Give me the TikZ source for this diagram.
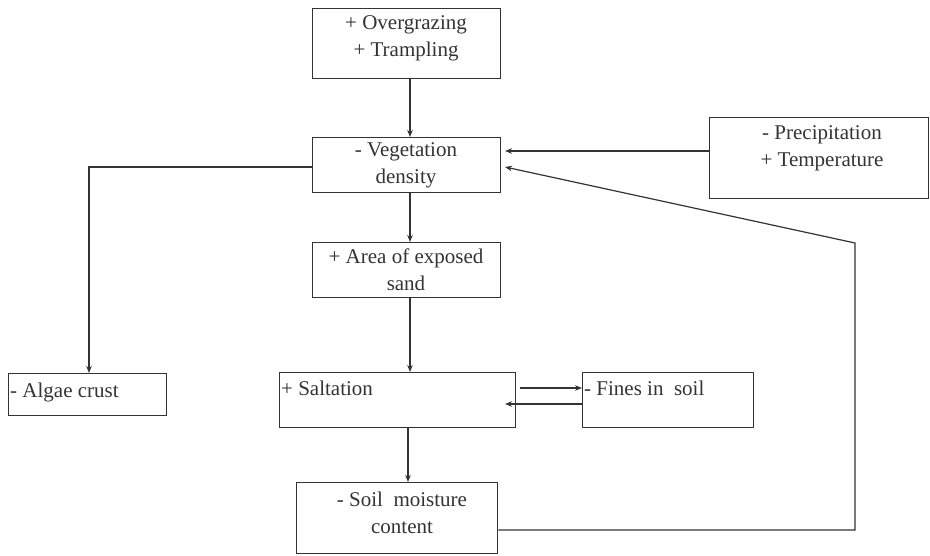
\documentclass[tikz,border=0pt]{standalone}
\usepackage{fontspec}
\setmainfont{Liberation Serif}
\usetikzlibrary{arrows.meta}
\definecolor{ink}{HTML}{333333}
\begin{document}
\begin{tikzpicture}[x=1pt,y=-1pt,
  box/.style={draw=ink, line width=1.4pt, inner sep=0pt, anchor=north west},
  lbl/.style={text=ink, font=\fontsize{21}{27}\selectfont, inner sep=0pt, align=center},
  lbll/.style={text=ink, font=\fontsize{21}{27}\selectfont, inner sep=0pt, anchor=west},
  conn/.style={draw=ink, line width=1.2pt},
  arr/.style={conn, -{Stealth[length=7pt,width=5.5pt]}}]
\useasboundingbox (0,0) rectangle (930,555);
% boxes
\node[box, minimum width=188pt, minimum height=70pt] (og) at (312,8) {};
\node[box, minimum width=188pt, minimum height=55pt] (veg) at (312,137) {};
\node[box, minimum width=219pt, minimum height=81pt] (pre) at (709,117) {};
\node[box, minimum width=188pt, minimum height=55pt] (area) at (312,242) {};
\node[box, minimum width=158pt, minimum height=42pt] (alg) at (8,373) {};
\node[box, minimum width=236pt, minimum height=55pt] (salt) at (279,372) {};
\node[box, minimum width=171pt, minimum height=55pt] (fin) at (582,372) {};
\node[box, minimum width=201pt, minimum height=71pt] (soil) at (296,482) {};
% texts
\node[lbl] (togt) at (406,38.5) {+ Overgrazing\\+ Trampling};
\node[lbl] (tveg) at (406,165) {- Vegetation\\density};
\node[lbl] (tpre) at (822,148) {- Precipitation\\+ Temperature};
\node[lbl] (tarea) at (406,270) {+ Area of exposed\\sand};
\node[lbll] (talg) at (10,392) {- Algae crust};
\node[lbll] (tsalt) at (281,388) {+ Saltation};
\node[lbll] (tfin) at (584,388) {- Fines in\ \ soil};
\node[lbl] (tsoil) at (402,513) {- Soil\ \ moisture\\content};
% helper coordinates
\coordinate (cx) at (410,0);
\coordinate (y151) at (0,151);
\coordinate (y167) at (0,167);
\coordinate (y388) at (0,388);
\coordinate (y404) at (0,404);
\coordinate (y530) at (0,530);
\coordinate (ka) at (89,167);
\coordinate (kb) at (855,530);
\coordinate (kc) at (855,243);
\coordinate (sx) at (520,0);
\coordinate (tx) at (505,0);
\coordinate (vx) at (505,0);
% connectors
\draw[arr] (og.south -| cx) -- (veg.north -| cx);
\draw[arr] (veg.south -| cx) -- (area.north -| cx);
\draw[arr] (area.south -| cx) -- (salt.north -| cx);
\draw[arr] ([xshift=-2pt]salt.south -| cx) -- ([xshift=-2pt]soil.north -| cx);
\draw[arr] (pre.west |- y151) -- (vx |- y151);
\draw[arr] (veg.west |- y167) -- (ka) -- (alg.north -| ka);
\draw[arr] (soil.east |- y530) -- (kb) -- (kc) -- (vx |- y167);
\draw[arr] (sx |- y388) -- (fin.west |- y388);
\draw[arr] (fin.west |- y404) -- (tx |- y404);
\end{tikzpicture}
\end{document}
